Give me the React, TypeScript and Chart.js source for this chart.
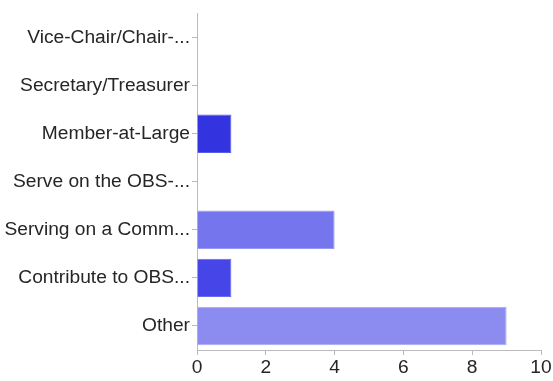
import React, { useEffect, useRef } from "react";
import { Chart, registerables } from "chart.js";

Chart.register(...registerables);

const categories = [
  "Vice-Chair/Chair-...",
  "Secretary/Treasurer",
  "Member-at-Large",
  "Serve on the OBS-...",
  "Serving on a Comm...",
  "Contribute to OBS...",
  "Other",
];
const values = [0, 0, 1, 0, 4, 1, 9];
const barColors = ["#3333e0", "#3333e0", "#3333e0", "#6f6fee", "#7575ee", "#4545e8", "#8c8cf0"];
const borderColors = ["#5a5ae8", "#5a5ae8", "#5a5ae8", "#9090f2", "#9898f3", "#6a6aee", "#a8a8f5"];
const xTicks = [0, 2, 4, 6, 8, 10];

export default function App() {
  const ref = useRef<HTMLCanvasElement | null>(null);
  useEffect(() => {
    document.body.style.margin = "0";
    const ctx = ref.current!;
    const font = { family: "'Liberation Sans', Arial, sans-serif", size: 19.2 };
    const chart = new Chart(ctx, {
      type: "bar",
      data: {
        labels: categories,
        datasets: [
          {
            data: values,
            backgroundColor: barColors,
            borderColor: borderColors,
            borderWidth: 1,
            categoryPercentage: 0.8,
            barPercentage: 1.0,
          },
        ],
      },
      options: {
        indexAxis: "y",
        animation: false,
        responsive: false,
        maintainAspectRatio: false,
        layout: { padding: { top: 12, right: 12, left: 0, bottom: 0 } },
        plugins: { legend: { display: false }, tooltip: { enabled: false } },
        scales: {
          x: {
            min: 0,
            max: 10,
            afterBuildTicks: (axis: any) => {
              axis.ticks = xTicks.map((v) => ({ value: v }));
            },
            ticks: { color: "#262626", font, padding: 1, maxRotation: 0 },
            grid: { drawOnChartArea: false, drawTicks: true, tickLength: 5, color: "#bbb" },
            border: { color: "#bbb", width: 1 },
            afterFit: (axis: any) => {
              axis.height = 31;
            },
          },
          y: {
            ticks: { color: "#262626", font, padding: 2 },
            grid: { offset: false, drawOnChartArea: false, drawTicks: true, tickLength: 5, color: "#bbb" },
            border: { color: "#bbb", width: 1 },
            afterFit: (axis: any) => {
              axis.width = 197;
            },
          },
        },
      },
    });
    return () => chart.destroy();
  }, []);
  return (
    <div style={{ width: 553, height: 381 }}>
      <canvas ref={ref} width={553} height={381} />
    </div>
  );
}
